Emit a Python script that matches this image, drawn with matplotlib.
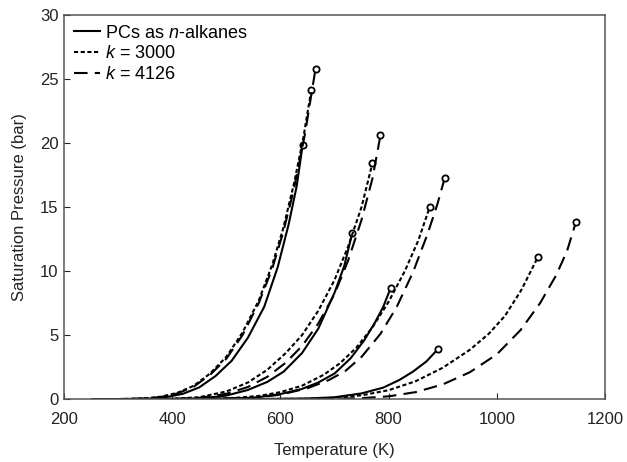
import matplotlib
matplotlib.use('Agg')
import matplotlib.pyplot as plt

plt.rcParams['font.family'] = ['Liberation Sans', 'DejaVu Sans']
plt.rcParams['mathtext.fontset'] = 'custom'
plt.rcParams['mathtext.it'] = 'Liberation Sans:italic'
plt.rcParams['mathtext.rm'] = 'Liberation Sans'

# Saturation pressure curves (T in K, P in bar)
# group 1
g1_solid_T = [260, 310, 360, 390, 420, 450, 480, 510, 540, 570, 595, 615, 630, 641]
g1_solid_P = [0.0, 0.01, 0.05, 0.17, 0.42, 0.92, 1.8, 3.0, 4.8, 7.2, 10.3, 13.6, 16.6, 19.8]
g1_k3000_T = [250, 300, 350, 380, 410, 440, 470, 500, 530, 560, 585, 605, 625, 642, 657]
g1_k3000_P = [0.0, 0.01, 0.06, 0.2, 0.5, 1.05, 2.0, 3.3, 5.2, 7.7, 10.5, 13.3, 16.8, 20.3, 24.1]
g1_k4126_T = [250, 300, 350, 380, 410, 440, 470, 500, 530, 560, 585, 605, 625, 645, 665]
g1_k4126_P = [0.0, 0.01, 0.05, 0.17, 0.45, 0.98, 1.9, 3.15, 5.0, 7.5, 10.2, 13.0, 16.4, 20.6, 25.8]
# group 2
g2_solid_T = [330, 450, 500, 540, 576, 606, 640, 670, 700, 718, 733]
g2_solid_P = [0.0, 0.05, 0.28, 0.72, 1.35, 2.15, 3.6, 5.5, 8.3, 10.4, 13.0]
g2_k3000_T = [330, 400, 450, 500, 540, 576, 610, 640, 670, 700, 725, 750, 770]
g2_k3000_P = [0.0, 0.03, 0.15, 0.6, 1.3, 2.3, 3.6, 5.0, 6.9, 9.3, 11.9, 15.0, 18.4]
g2_k4126_T = [330, 400, 450, 500, 540, 576, 610, 640, 670, 700, 725, 750, 770, 785]
g2_k4126_P = [0.0, 0.02, 0.1, 0.42, 0.95, 1.75, 2.85, 4.15, 5.9, 8.2, 10.8, 14.0, 17.2, 20.6]
# group 3
g3_solid_T = [420, 550, 600, 640, 670, 700, 730, 755, 775, 790, 804]
g3_solid_P = [0.0, 0.1, 0.4, 0.8, 1.3, 2.0, 3.2, 4.6, 6.0, 7.2, 8.7]
g3_k3000_T = [420, 500, 560, 600, 640, 680, 710, 740, 770, 800, 830, 855, 876]
g3_k3000_P = [0.0, 0.05, 0.25, 0.55, 1.05, 1.9, 2.8, 4.0, 5.6, 7.6, 10.0, 12.4, 15.0]
g3_k4126_T = [420, 550, 600, 650, 690, 720, 750, 785, 815, 845, 872, 890, 904]
g3_k4126_P = [0.0, 0.1, 0.35, 0.85, 1.5, 2.2, 3.3, 5.1, 7.2, 9.9, 12.9, 15.2, 17.3]
# group 4
g4_solid_T = [520, 650, 700, 750, 790, 820, 845, 870, 891]
g4_solid_P = [0.0, 0.05, 0.15, 0.45, 0.9, 1.5, 2.15, 2.95, 3.9]
g4_k3000_T = [520, 650, 700, 750, 800, 850, 900, 950, 985, 1015, 1045, 1076]
g4_k3000_P = [0.0, 0.03, 0.1, 0.3, 0.7, 1.4, 2.45, 3.85, 5.1, 6.5, 8.5, 11.1]
g4_k4126_T = [520, 700, 750, 800, 850, 900, 950, 1000, 1044, 1080, 1110, 1130, 1146]
g4_k4126_P = [0.0, 0.03, 0.08, 0.22, 0.55, 1.15, 2.1, 3.5, 5.4, 7.5, 9.7, 11.6, 13.8]

solid = [(g1_solid_T, g1_solid_P), (g2_solid_T, g2_solid_P),
         (g3_solid_T, g3_solid_P), (g4_solid_T, g4_solid_P)]
k3000 = [(g1_k3000_T, g1_k3000_P), (g2_k3000_T, g2_k3000_P),
         (g3_k3000_T, g3_k3000_P), (g4_k3000_T, g4_k3000_P)]
k4126 = [(g1_k4126_T, g1_k4126_P), (g2_k4126_T, g2_k4126_P),
         (g3_k4126_T, g3_k4126_P), (g4_k4126_T, g4_k4126_P)]

fig = plt.figure(figsize=(6.27, 4.62), dpi=100)
ax = fig.add_axes([0.102, 0.136, 0.863, 0.832])

styles = [
    (solid, '-', 'PCs as $n$-alkanes'),
    (k3000, (0, (2.0, 1.2)), '$k$ = 3000'),
    (k4126, (0, (6.5, 3.5)), '$k$ = 4126'),
]
for curves, ls, label in styles:
    for i, (T, P) in enumerate(curves):
        ax.plot(T, P, color='black', lw=1.5, ls=ls,
                label=label if i == 0 else None)
        # critical point marker at the end of each curve
        ax.plot(T[-1], P[-1], 'o', ms=4.5, mfc='white', mec='black', mew=1.3)

ax.set_xlim(200, 1200)
ax.set_ylim(0, 30)
ax.set_xticks([200, 400, 600, 800, 1000, 1200])
ax.set_yticks([0, 5, 10, 15, 20, 25, 30])
ax.tick_params(direction='in', length=4, labelsize=12, colors='#222222',
               top=False, right=False)
ax.tick_params(axis='x', pad=9)
ax.tick_params(axis='y', pad=4)
for s in ax.spines.values():
    s.set_color('#555555')
    s.set_linewidth(1.1)

ax.set_xlabel('Temperature (K)', fontsize=12, color='#222222', labelpad=12)
ax.set_ylabel('Saturation Pressure (bar)', fontsize=12, color='#222222',
              labelpad=9)

ax.legend(loc='upper left', frameon=False, fontsize=13, handlelength=1.45,
          handletextpad=0.3, borderaxespad=0.3, labelspacing=0.2,
          borderpad=0.25)

fig.savefig('out.png', dpi=100)
